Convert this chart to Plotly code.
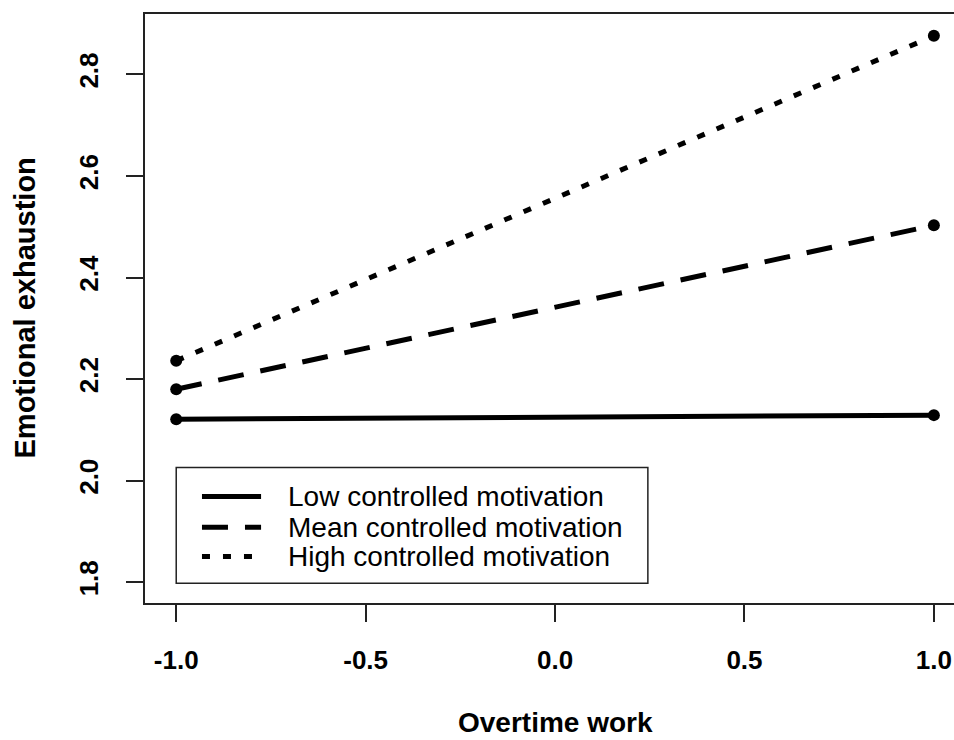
import plotly.graph_objects as go

# ---- data ----
overtime = [-1.0, 1.0]
series_names = ["Low controlled motivation", "Mean controlled motivation", "High controlled motivation"]
low_vals = [2.121, 2.129]
mean_vals = [2.180, 2.503]
high_vals = [2.236, 2.876]
x_ticks = [-1.0, -0.5, 0.0, 0.5, 1.0]
y_ticks = [1.8, 2.0, 2.2, 2.4, 2.6, 2.8]

series_vals = [low_vals, mean_vals, high_vals]
dashes = ["solid", "26px,17px", "8px,13px"]

FONT = "Liberation Sans, Arial, sans-serif"
INK = "#000000"

fig = go.Figure()
for name, vals, dash in zip(series_names, series_vals, dashes):
    fig.add_trace(go.Scatter(
        x=overtime, y=vals, name=name, mode="lines+markers",
        line=dict(color=INK, width=5, dash=dash),
        marker=dict(color=INK, size=12, symbol="circle"),
        showlegend=False,
    ))

# manual R-style legend (box, line samples, labels) in data coordinates
leg_x0, leg_x1 = -1.0, 0.245
leg_y0, leg_y1 = 1.798, 2.026
row_y = [1.9685, 1.908, 1.8505]
fig.add_shape(type="rect", xref="x", yref="y", x0=leg_x0, x1=leg_x1, y0=leg_y0, y1=leg_y1,
              line=dict(color="#222222", width=1.5), fillcolor="white", layer="above")
for name, dash, ry in zip(series_names, dashes, row_y):
    fig.add_shape(type="line", xref="x", yref="y", x0=-0.932, x1=-0.776, y0=ry, y1=ry,
                  line=dict(color=INK, width=5, dash=dash), layer="above")
    fig.add_annotation(x=-0.71, y=ry, xref="x", yref="y", text=name, showarrow=False,
                       xanchor="left", yanchor="middle",
                       font=dict(family=FONT, size=28, color=INK))

# axis titles
fig.add_annotation(x=0.0, xref="x", y=0, yref="paper", yshift=-119, text="<b>Overtime work</b>",
                   showarrow=False, xanchor="center", yanchor="middle",
                   font=dict(family=FONT, size=28, color=INK))
fig.add_annotation(x=0, xref="paper", xshift=-121, y=0.5, yref="paper", text="<b>Emotional exhaustion</b>",
                   textangle=-90, showarrow=False, xanchor="center", yanchor="middle",
                   font=dict(family=FONT, size=29, color=INK))

fig.update_layout(
    width=954, height=740,
    margin=dict(l=145, r=0, t=14, b=137),
    paper_bgcolor="white", plot_bgcolor="white",
    font=dict(family=FONT, color=INK),
)
fig.update_xaxes(
    range=[-1.0824, 1.0531], tickvals=x_ticks, ticktext=[f"{v:.1f}" for v in x_ticks],
    showgrid=False, zeroline=False,
    showline=True, mirror=True, linecolor="#222222", linewidth=1.5,
    ticks="outside", ticklen=17, tickwidth=1.5, tickcolor="#222222",
    tickfont=dict(family=FONT, size=26, color=INK, weight="bold"),
    ticklabelstandoff=16,
)
fig.update_yaxes(
    range=[1.759, 2.919], tickvals=y_ticks, ticktext=[f"{v:.1f}" for v in y_ticks],
    showgrid=False, zeroline=False,
    showline=True, mirror=False, linecolor="#222222", linewidth=1.5,
    ticks="outside", ticklen=17, tickwidth=1.5, tickcolor="#222222",
    tickangle=-90,
    tickfont=dict(family=FONT, size=26, color=INK, weight="bold"),
    ticklabelstandoff=18,
)

fig.write_html("out.html", config={"displayModeBar": False},
               post_script="document.body.style.margin='0';document.body.style.overflow='hidden';")
